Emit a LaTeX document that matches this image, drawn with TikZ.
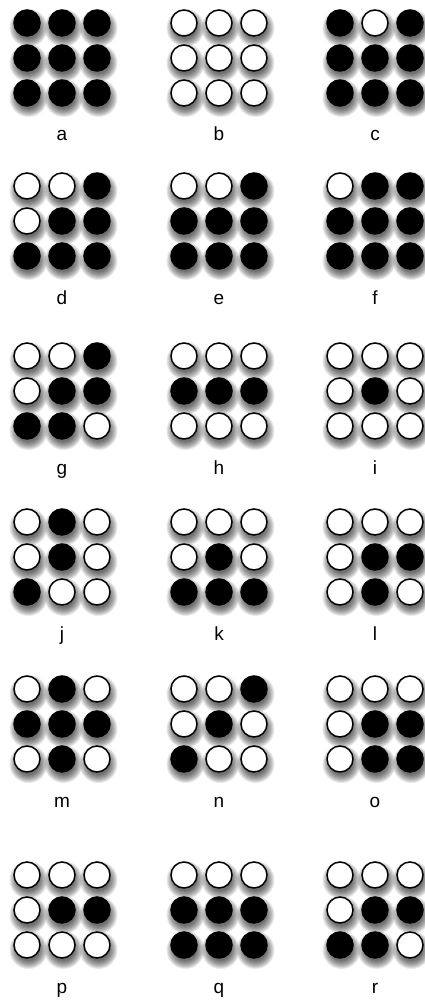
\documentclass[tikz,border=0pt]{standalone}
\usepackage{fontspec}
\setmainfont{Liberation Sans}

\pgfdeclarelayer{shade}
\pgfsetlayers{shade,main}

\begin{document}
\begin{tikzpicture}[x=1pt, y=-1pt,
    dot/.style={circle, draw, line width=1.5pt, minimum size=26pt, inner sep=0pt},
    blur/.style={fill=black, opacity=0.085},
    letter/.style={font=\fontsize{19}{21}\selectfont, anchor=base}]
    \useasboundingbox (0,0) rectangle (424,1000);

    % one 3x3 pattern per letter: name / centre x / top row y / dots row by row (1 = black)
    \foreach \name/\cx/\cy/\pat in {
        a/62/23/{1,1,1,1,1,1,1,1,1},
        b/219/23/{0,0,0,0,0,0,0,0,0},
        c/375/23/{1,0,1,1,1,1,1,1,1},
        d/62/186/{0,0,1,0,1,1,1,1,1},
        e/219/186/{0,0,1,1,1,1,1,1,1},
        f/375/186/{0,1,1,1,1,1,1,1,1},
        g/62/356/{0,0,1,0,1,1,1,1,0},
        h/219/356/{0,0,0,1,1,1,0,0,0},
        i/375/356/{0,0,0,0,1,0,0,0,0},
        j/62/522/{0,1,0,0,1,0,1,0,0},
        k/219/522/{0,0,0,0,1,0,1,1,1},
        l/375/522/{0,0,0,0,1,1,0,1,0},
        m/62/689/{0,1,0,1,1,1,0,1,0},
        n/219/689/{0,0,1,0,1,0,1,0,0},
        o/375/689/{0,0,0,0,1,1,0,1,1},
        p/62/875/{0,0,0,0,1,1,0,0,0},
        q/219/875/{0,0,0,1,1,1,1,1,1},
        r/375/875/{0,0,0,0,1,1,1,1,0}} {
      \foreach \v [count=\i from 0] in \pat {
        \pgfmathtruncatemacro{\col}{mod(\i,3)}
        \pgfmathtruncatemacro{\row}{div(\i,3)}
        \pgfmathtruncatemacro{\ink}{100*\v}
        \node[dot, fill=black!\ink!white] (\name-\row-\col) at ({\cx+35*(\col-1)}, {\cy+35*\row}) {};
        % soft shadow, stacked discs under the dot
        \begin{pgfonlayer}{shade}
          \foreach \r in {11,12,...,19}
            \fill[blur] ([shift={(1.5,5)}]\name-\row-\col.center) circle (\r pt);
        \end{pgfonlayer}
      }
      % letter under the pattern
      \node[letter] (lab-\name) at (\cx, \cy+118) {\name};
    }
\end{tikzpicture}
\end{document}
